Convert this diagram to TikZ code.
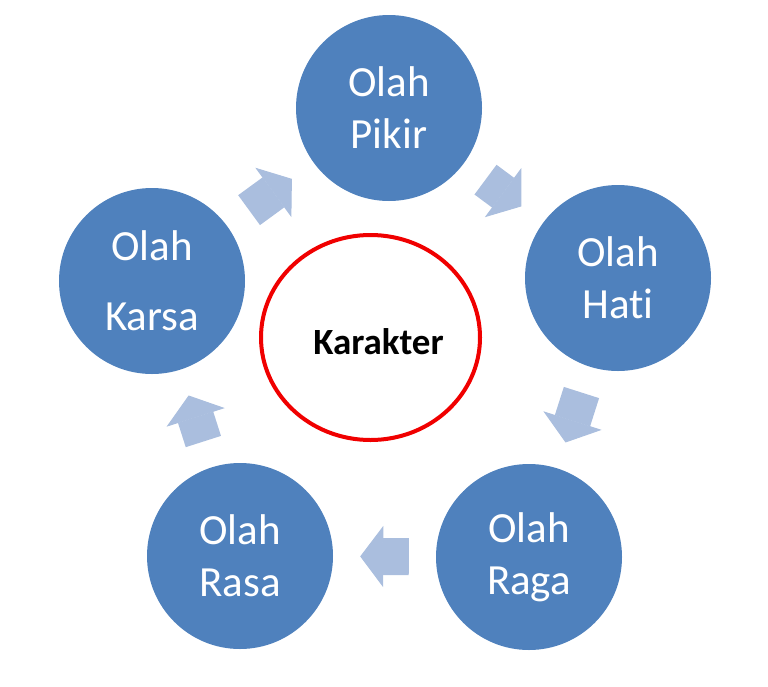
\documentclass[tikz,border=0pt]{standalone}
\usepackage{fontspec}
\setmainfont{Carlito}[Ligatures=CommonOff]
\usetikzlibrary{arrows.meta,shapes.geometric}

\definecolor{olahblue}{RGB}{79,129,189}
\definecolor{flowblue}{RGB}{170,190,222}
\definecolor{karakterred}{RGB}{240,0,0}

\tikzset{
    olah/.style={circle, fill=olahblue, minimum size=186pt, inner sep=0pt,
        text=white, align=center, font=\fontsize{43}{52}\selectfont},
    flowarrow/.style={draw=flowblue, line width=37pt,
        shorten <=27pt, shorten >=27pt,
        -{Triangle[length=23pt, width=61pt, line width=1pt]}},
}

\begin{document}
\begin{tikzpicture}[x=1pt, y=-1pt]
        \useasboundingbox (0, 0) rectangle (768, 686);

        \node[olah] (pikir) at (389, 108) {Olah\\Pikir};
        \node[olah] (hati) at (618, 278) {Olah\\Hati};
        \node[olah] (raga) at (529, 557) {Olah\\Raga};
        \node[olah] (rasa) at (240, 556) {Olah\\Rasa};
        \node[olah] (karsa) at (152, 281) {Olah\\[18pt]Karsa};

        \node[ellipse, draw=karakterred, line width=4pt,
            minimum width=219pt, minimum height=205pt,
            label={[font=\fontsize{37}{44}\selectfont\bfseries, xshift=8pt, yshift=-4pt]center:Karakter}]
            (karakter) at (370.5, 337.5) {};

        \foreach \a/\b in {pikir/hati, hati/raga, raga/rasa, rasa/karsa, karsa/pikir}{
            \draw[flowarrow] (\a) -- (\b);
        };
    \end{tikzpicture}
\end{document}
